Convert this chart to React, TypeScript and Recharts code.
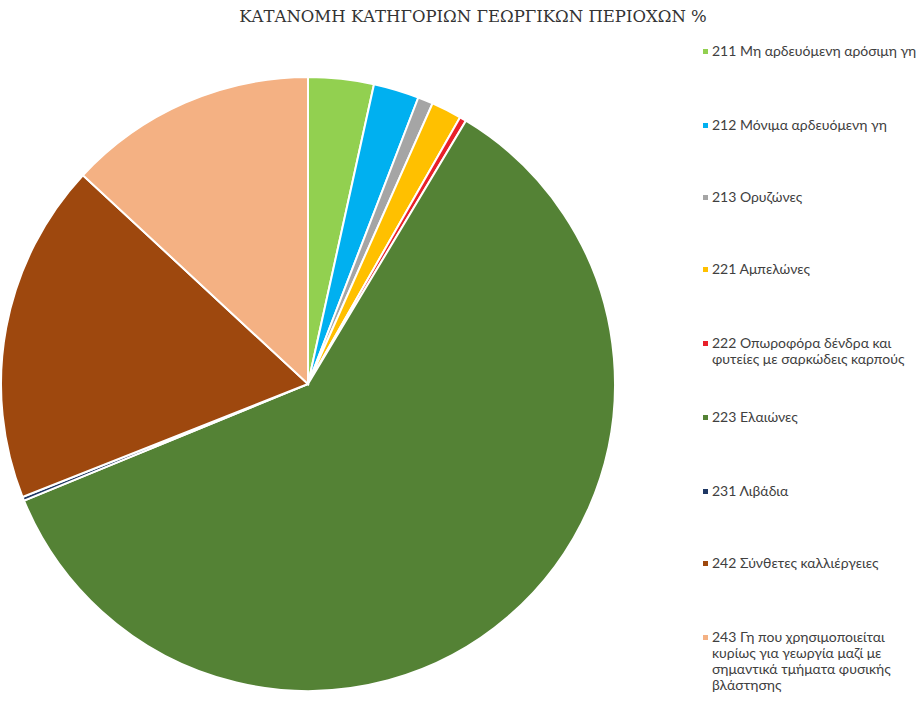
import { PieChart, Pie, Cell, Legend } from 'recharts';

const codes = ['211', '212', '213', '221', '222', '223', '231', '242', '243'];
const names = [
  '211 Μη αρδευόμενη αρόσιμη γη',
  '212 Μόνιμα αρδευόμενη γη',
  '213 Ορυζώνες',
  '221 Αμπελώνες',
  '222 Οπωροφόρα δένδρα και φυτείες με σαρκώδεις καρπούς',
  '223 Ελαιώνες',
  '231 Λιβάδια',
  '242 Σύνθετες καλλιέργειες',
  '243 Γη που χρησιμοποιείται κυρίως για γεωργία μαζί με σημαντικά τμήματα φυσικής βλάστησης',
];
const shares = [3.45, 2.4, 0.8, 1.6, 0.35, 60.2, 0.2, 17.9, 13.1];
const colors = ['#92d050', '#00b0f0', '#a5a5a5', '#ffc000', '#e8202a', '#548235', '#1f3864', '#9e480e', '#f4b183'];

const data = codes.map((c, i) => ({ code: c, name: names[i], value: shares[i] }));

const legendRows = [52, 126, 198, 270, 344, 418, 492, 564, 638];

function LegendBox() {
  return (
    <div style={{ position: 'relative', width: 220, height: 701 }}>
      {data.map((d, i) => (
        <div
          key={d.code}
          style={{
            position: 'absolute',
            top: legendRows[i] - 9,
            left: 0,
            width: 214,
            display: 'flex',
            fontFamily: 'Lato, "Open Sans", sans-serif',
            fontSize: 14,
            lineHeight: '16px',
            color: '#404040',
            textAlign: 'left',
          }}
        >
          <span
            style={{
              display: 'inline-block',
              width: 5,
              height: 5,
              background: colors[i],
              marginTop: 6,
              marginRight: 4,
              flexShrink: 0,
            }}
          />
          <span>{d.name}</span>
        </div>
      ))}
    </div>
  );
}

export default function App() {
  return (
    <div style={{ position: 'absolute', left: 0, top: 0, width: 924, height: 701, background: '#fff' }}>
      <div
        style={{
          position: 'absolute',
          top: 7,
          left: 0,
          width: 946,
          textAlign: 'center',
          fontFamily: '"DejaVu Serif", "Liberation Serif", serif',
          fontSize: 16.5,
          color: '#333333',
        }}
      >
        ΚΑΤΑΝΟΜΗ ΚΑΤΗΓΟΡΙΩΝ ΓΕΩΡΓΙΚΩΝ ΠΕΡΙΟΧΩΝ %
      </div>
      <PieChart
        width={924}
        height={701}
        margin={{ top: 0, right: 0, bottom: 0, left: 0 }}
        style={{ position: 'absolute', left: 0, top: 0 }}
      >
        <Pie
          data={data}
          dataKey="value"
          nameKey="name"
          cx={308}
          cy={384}
          outerRadius={307}
          startAngle={90}
          endAngle={-270}
          stroke="#ffffff"
          strokeWidth={2}
          isAnimationActive={false}
        >
          {data.map((d, i) => (
            <Cell key={d.code} fill={colors[i]} />
          ))}
        </Pie>
        <Legend
          content={<LegendBox />}
          wrapperStyle={{ position: 'absolute', left: 703, top: 0, width: 220 }}
        />
      </PieChart>
    </div>
  );
}
